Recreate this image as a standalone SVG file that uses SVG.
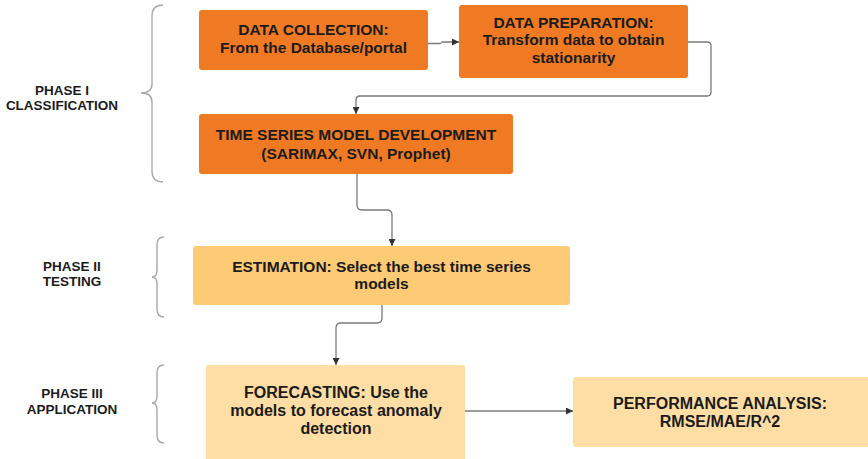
<svg xmlns="http://www.w3.org/2000/svg" width="868" height="459" viewBox="0 0 868 459">
  <style>
    .dark { fill: #F07A24; }
    .mid { fill: #FDCA75; }
    .light { fill: #FEDEA5; }
    .t { font-family: "Liberation Sans", Arial, sans-serif; font-weight: bold; font-size: 15.5px; fill: #1b1b1b; text-anchor: middle; }
    .t16 { font-size: 16px; }
    .ph { font-family: "Liberation Sans", Arial, sans-serif; font-weight: bold; font-size: 13.5px; fill: #1b1b1b; text-anchor: middle; }
    .brace { fill: none; stroke: #a9a9a9; stroke-width: 1.4; }
    .conn { fill: none; stroke: #7a7a7a; stroke-width: 1.3; }
  </style>
  <defs>
    <marker id="arrow" viewBox="0 0 10 10" refX="10" refY="5" markerWidth="7" markerHeight="7" markerUnits="userSpaceOnUse" orient="auto">
      <path d="M0,0 L10,5 L0,10 z" fill="#333"/>
    </marker>
  </defs>

  <!-- phase labels and braces -->
  <g id="phase1">
    <text class="ph" x="62" y="95">PHASE I</text>
    <text class="ph" x="62" y="109.5">CLASSIFICATION</text>
    <path class="brace" d="M163,5 Q152,5 152,16 V84 Q152,93 141,93 Q152,93 152,102 V171 Q152,182 163,182"/>
  </g>
  <g id="phase2">
    <text class="ph" x="72" y="271">PHASE II</text>
    <text class="ph" x="72" y="286">TESTING</text>
    <path class="brace" d="M164,237 Q157,237 157,245 V270 Q157,277 152,277 Q157,277 157,284 V309 Q157,317 164,317"/>
  </g>
  <g id="phase3">
    <text class="ph" x="72" y="398">PHASE III</text>
    <text class="ph" x="72" y="414">APPLICATION</text>
    <path class="brace" d="M164,365 Q157,365 157,373 V396 Q157,403 152,403 Q157,403 157,410 V435 Q157,443 164,443"/>
  </g>

  <!-- connectors -->
  <g id="connectors">
    <path class="conn" d="M428,43.5 H440 Q441,43.5 442,42 H459" marker-end="url(#arrow)"/>
    <path class="conn" d="M688,42 H707 Q711,42 711,46 V92 Q711,96 707,96 H360 Q356,96 356,100 V114" marker-end="url(#arrow)"/>
    <path class="conn" d="M357,174 V205 Q357,210 362,210 H387 Q392,210 392,215 V246" marker-end="url(#arrow)"/>
    <path class="conn" d="M382,305 V318 Q382,323 377,323 H341 Q336,323 336,328 V365" marker-end="url(#arrow)"/>
    <path class="conn" d="M465,411 H573" marker-end="url(#arrow)"/>
  </g>

  <!-- process nodes -->
  <g id="data-collection">
    <rect class="dark" x="199" y="10" width="229" height="60" rx="3"/>
    <text class="t" x="313.5" y="34.5">DATA COLLECTION:</text>
    <text class="t" x="313.5" y="52.5">From the Database/portal</text>
  </g>
  <g id="data-preparation">
    <rect class="dark" x="459" y="5" width="229" height="73" rx="3"/>
    <text class="t" x="573.5" y="27.5">DATA PREPARATION:</text>
    <text class="t" x="573.5" y="45">Transform data to obtain</text>
    <text class="t" x="573.5" y="62.5">stationarity</text>
  </g>
  <g id="model-development">
    <rect class="dark" x="199" y="114" width="314" height="60" rx="3"/>
    <text class="t" x="356" y="139.5">TIME SERIES MODEL DEVELOPMENT</text>
    <text class="t" x="356" y="158.5">(SARIMAX, SVN, Prophet)</text>
  </g>
  <g id="estimation">
    <rect class="mid" x="193" y="246" width="377" height="59" rx="3"/>
    <text class="t" x="381.5" y="271.5">ESTIMATION: Select the best time series</text>
    <text class="t" x="381.5" y="289">models</text>
  </g>
  <g id="forecasting">
    <rect class="light" x="206" y="365" width="259" height="96" rx="3"/>
    <text class="t t16" x="336" y="397.5">FORECASTING: Use the</text>
    <text class="t t16" x="336" y="415.5">models to forecast anomaly</text>
    <text class="t t16" x="336" y="433.5">detection</text>
  </g>
  <g id="performance">
    <rect class="light" x="573" y="377" width="300" height="70" rx="3"/>
    <text class="t t16" x="720" y="408.5">PERFORMANCE ANALYSIS:</text>
    <text class="t t16" x="720" y="426.5">RMSE/MAE/R^2</text>
  </g>
</svg>
